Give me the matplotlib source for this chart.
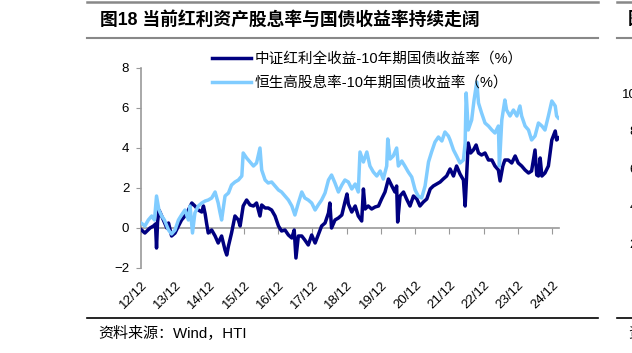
import matplotlib
matplotlib.use("Agg")
import matplotlib.pyplot as plt
from matplotlib.lines import Line2D

plt.rcParams['font.family'] = ['Liberation Sans', 'Noto Sans CJK SC']

# 中证红利全收益 - 10年期国债收益率 (decimal year, %)
csi_t = [2012.92, 2013.03, 2013.18, 2013.28, 2013.34, 2013.37, 2013.40, 2013.44, 2013.47,
         2013.57, 2013.67, 2013.72, 2013.81, 2013.91, 2014.01, 2014.10, 2014.20, 2014.30,
         2014.40, 2014.49, 2014.59, 2014.69, 2014.74, 2014.79, 2014.83, 2014.88, 2014.98,
         2015.08, 2015.17, 2015.27, 2015.37, 2015.42, 2015.47, 2015.56, 2015.66, 2015.76,
         2015.81, 2015.90, 2016.00, 2016.10, 2016.20, 2016.29, 2016.39, 2016.44, 2016.54,
         2016.63, 2016.73, 2016.83, 2016.93, 2017.02, 2017.12, 2017.22, 2017.32, 2017.39,
         2017.44, 2017.51, 2017.61, 2017.70, 2017.80, 2017.90, 2018.00, 2018.09, 2018.19,
         2018.29, 2018.39, 2018.43, 2018.48, 2018.58, 2018.68, 2018.78, 2018.87, 2018.93,
         2018.97, 2019.07, 2019.17, 2019.26, 2019.36, 2019.41, 2019.46, 2019.55, 2019.65,
         2019.75, 2019.85, 2019.94, 2020.04, 2020.14, 2020.24, 2020.33, 2020.38, 2020.41,
         2020.48, 2020.58, 2020.67, 2020.77, 2020.87, 2020.97, 2021.06, 2021.16, 2021.26,
         2021.36, 2021.45, 2021.55, 2021.65, 2021.74, 2021.84, 2021.94, 2022.04, 2022.13,
         2022.23, 2022.33, 2022.38, 2022.43, 2022.47, 2022.54, 2022.62, 2022.70, 2022.77,
         2022.86, 2022.96, 2023.06, 2023.16, 2023.25, 2023.35, 2023.40, 2023.48, 2023.54,
         2023.64, 2023.74, 2023.84, 2023.93, 2024.03, 2024.13, 2024.23, 2024.32, 2024.42,
         2024.47, 2024.52, 2024.57, 2024.62, 2024.71, 2024.81, 2024.91, 2025.01, 2025.05,
         2025.11]
csi_v = [-0.08, -0.25, 0.0, 0.1, 0.2, -1.0, 0.3, 0.9, 0.8,
         0.4, 0.0, 0.25, -0.4, -0.25, 0.1, 0.4, 0.6, 0.9,
         1.25, 1.1, 0.9, 0.8, 1.1, 0.7, 0.25, -0.25, -0.1,
         -0.4, -0.75, -0.4, -1.1, -1.35, -0.9, -0.25, 0.6, 0.4,
         0.1, 1.1, 1.4, 1.15, 1.1, 1.25, 0.6, 1.15, 1.0,
         1.0, 0.9, 0.6, 0.1, -0.15, -0.1, -0.35, -0.5, -0.1,
         -1.5, -0.4, -0.4, -0.6, -0.85, -0.35, -0.75, -0.35, 0.1,
         0.25, 0.75, 1.25, 0.0, 0.4, 0.5, 0.65, 1.3, 1.7,
         1.2, 0.8, 1.1, 0.6, 0.35, 1.95, 0.95, 1.1, 0.95,
         1.05, 1.1, 1.45, 1.8, 2.45, 2.1, 1.8, 2.1, 0.3,
         1.6, 1.8, 1.45, 1.1, 1.6, 1.45, 1.1, 1.3, 1.45,
         1.95, 2.1, 2.2, 2.3, 2.45, 2.6, 2.95, 2.6, 3.1,
         2.7, 2.4, 1.1, 2.9, 4.25, 3.75, 3.9, 4.15, 3.75,
         3.65, 3.75, 3.4, 3.4, 3.1, 2.9, 2.35, 3.1, 3.4,
         3.4, 3.25, 3.6, 3.25, 3.1, 2.9, 2.75, 2.85, 3.9,
         2.65, 2.6, 3.5, 2.6, 2.75, 3.1, 4.4, 4.85, 4.4,
         4.5]

# 恒生高股息率 - 10年期国债收益率 (decimal year, %)
hsi_t = [2012.92, 2013.03, 2013.13, 2013.23, 2013.31, 2013.37, 2013.44, 2013.52, 2013.60,
         2013.72, 2013.81, 2013.91, 2014.01, 2014.10, 2014.20, 2014.30, 2014.35, 2014.42,
         2014.49, 2014.59, 2014.69, 2014.79, 2014.88, 2014.98, 2015.08, 2015.17, 2015.22,
         2015.27, 2015.37, 2015.47, 2015.56, 2015.66, 2015.76, 2015.86, 2015.90, 2016.00,
         2016.10, 2016.20, 2016.29, 2016.39, 2016.44, 2016.54, 2016.63, 2016.73, 2016.83,
         2016.93, 2017.02, 2017.12, 2017.22, 2017.32, 2017.41, 2017.51, 2017.61, 2017.70,
         2017.80, 2017.90, 2018.00, 2018.09, 2018.19, 2018.29, 2018.39, 2018.48, 2018.58,
         2018.68, 2018.78, 2018.87, 2018.97, 2019.07, 2019.17, 2019.26, 2019.31, 2019.41,
         2019.51, 2019.60, 2019.70, 2019.80, 2019.90, 2019.99, 2020.09, 2020.12, 2020.19,
         2020.28, 2020.38, 2020.43, 2020.53, 2020.62, 2020.72, 2020.82, 2020.92, 2021.01,
         2021.11, 2021.21, 2021.31, 2021.40, 2021.50, 2021.60, 2021.70, 2021.79, 2021.89,
         2021.94, 2022.04, 2022.13, 2022.23, 2022.33, 2022.38, 2022.41, 2022.47, 2022.57,
         2022.64, 2022.72, 2022.77, 2022.86, 2022.96, 2023.06, 2023.16, 2023.25, 2023.35,
         2023.38, 2023.45, 2023.54, 2023.59, 2023.69, 2023.79, 2023.89, 2023.98, 2024.03,
         2024.13, 2024.23, 2024.32, 2024.42, 2024.52, 2024.62, 2024.71, 2024.81, 2024.91,
         2025.01, 2025.05, 2025.10]
hsi_v = [0.25, 0.1, 0.4, 0.6, 0.4, 1.6, 0.9, 0.6, 0.4,
         -0.1, -0.3, -0.1, 0.4, 0.65, 0.9, 0.4, 1.1, -0.25,
         0.75, 1.1, 1.25, 1.35, 1.4, 1.5, 1.8, 1.25, 0.8,
         0.4, 1.6, 1.75, 2.15, 2.3, 2.4, 2.6, 3.75, 3.5,
         3.3, 3.1, 3.25, 4.0, 2.9, 2.4, 2.25, 2.3, 2.1,
         1.9, 1.8, 1.6, 1.4, 1.1, 0.65, 1.25, 1.8, 1.5,
         1.4, 1.25, 0.9, 1.15, 1.4, 1.75, 2.4, 2.65, 2.25,
         1.8, 2.15, 2.4, 2.3, 1.95, 2.2, 1.8, 3.8, 3.3,
         3.8, 3.1, 2.8, 2.6, 2.85, 2.45, 3.1, 4.45, 3.45,
         3.6, 4.0, 3.1, 3.35, 3.1, 2.8, 2.55, 1.9, 1.6,
         1.5, 2.1, 3.3, 3.8, 4.3, 4.55, 4.35, 4.8, 4.6,
         4.4, 3.9, 3.6, 3.25, 3.4, 4.25, 6.75, 4.9, 5.4,
         6.4, 7.3, 6.25, 5.75, 5.25, 5.1, 4.9, 4.75, 5.1,
         3.1, 5.4, 6.4, 5.9, 5.6, 5.9, 5.6, 6.1, 5.6,
         5.1, 4.9, 4.4, 4.6, 5.25, 5.1, 4.9, 5.6, 6.35,
         6.1, 5.6, 5.5]

tick_pos = [y + 11 / 12 for y in range(2012, 2025)]
tick_labels = ['12/12', '13/12', '14/12', '15/12', '16/12', '17/12', '18/12',
               '19/12', '20/12', '21/12', '22/12', '23/12', '24/12']

W, H = 632, 353
fig = plt.figure(figsize=(W / 100, H / 100), dpi=100)
ax = fig.add_axes([141 / W, 1 - 268 / H, 418 / W, 200 / H])

navy = '#000080'
light = '#80CCFF'
l1, = ax.plot(csi_t, csi_v, color=navy, lw=2.5, zorder=3)
l2, = ax.plot(hsi_t, hsi_v, color=light, lw=2.5, zorder=4)

ax.set_xlim(2012.917, 2025.12)
ax.set_ylim(-2, 8)
ax.set_yticks([-2, 0, 2, 4, 6, 8])
ax.spines['top'].set_visible(False)
ax.spines['right'].set_visible(False)
ax.spines['left'].set_color('#999999')
ax.spines['left'].set_linewidth(1.2)
ax.spines['bottom'].set_position(('data', 0))
ax.spines['bottom'].set_color('#999999')
ax.spines['bottom'].set_linewidth(1.2)
ax.set_xticks(tick_pos)
ax.tick_params(axis='x', direction='out', length=4, color='#999999', labelbottom=False)
ax.tick_params(axis='y', direction='out', length=3.5, color='#999999', labelsize=9.5, pad=5)

sec = ax.secondary_xaxis(0)
sec.set_xticks(tick_pos, labels=tick_labels)
sec.spines['bottom'].set_visible(False)
sec.tick_params(length=0, pad=8, labelsize=9.5)
plt.setp(sec.get_xticklabels(), rotation=45, ha='right', rotation_mode='anchor')

fig.legend([l1, l2], ['中证红利全收益-10年期国债收益率（%）', '恒生高股息率-10年期国债收益率（%）'],
           loc='upper left', bbox_to_anchor=(212 / W, 1 - 52 / H), bbox_transform=fig.transFigure,
           frameon=False, borderpad=0, borderaxespad=0, handlelength=2.7, handletextpad=0.2,
           labelspacing=0.68, fontsize=10.5)

# title box and source
fig.text(100 / W, 1 - 20 / H, '图18 当前红利资产股息率与国债收益率持续走阔',
         fontsize=12.8, fontweight='bold', va='center', ha='left')
fig.text(98 / W, 1 - 334 / H, '资料来源：Wind，HTI', fontsize=10.8, va='center', ha='left')

for x0, x1 in [(87, 598), (617, 640)]:
    fig.add_artist(Line2D([x0 / W, x1 / W], [1 - 2 / H] * 2, color='#888888', lw=1.8))
    fig.add_artist(Line2D([x0 / W, x1 / W], [1 - 38 / H] * 2, color='#888888', lw=1.5))
    fig.add_artist(Line2D([x0 / W, x1 / W], [1 - 318 / H] * 2, color='black', lw=1.2))

# edge of the neighbouring chart
fig.text(628 / W, 1 - 20 / H, '图', fontsize=12.8, fontweight='bold', va='center', ha='left')
for lab, yy in [('10', 95), ('8', 132), ('6', 170), ('4', 207), ('2', 245)]:
    fig.text(637 / W, 1 - yy / H, lab, fontsize=9.5, va='center', ha='right')
fig.text(628 / W, 1 - 334 / H, '资', fontsize=10.8, va='center', ha='left')

fig.savefig('out.png', dpi=100)
